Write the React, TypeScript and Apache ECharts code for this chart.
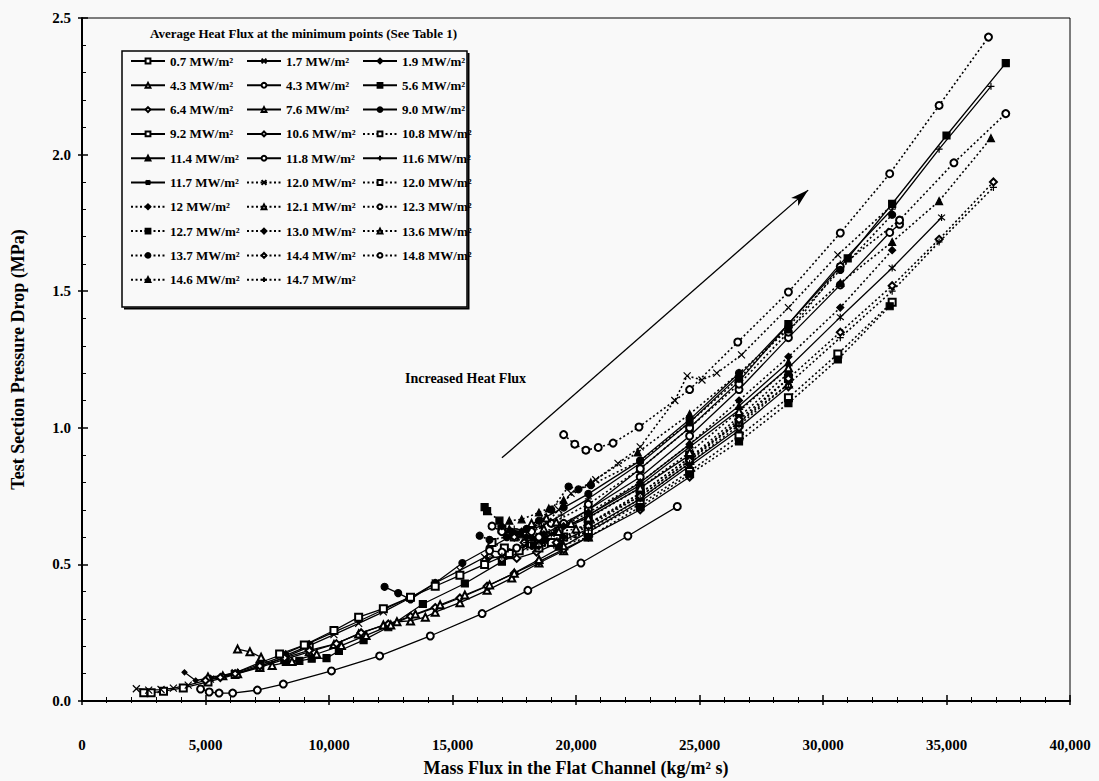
import React, { useEffect, useRef } from "react";
import * as echarts from "echarts";

type Pt = [number, number];

const FONT = "'Liberation Serif', 'Times New Roman', serif";

// x-axis tick labels and y-axis tick labels
const xTickValues = [0, 5000, 10000, 15000, 20000, 25000, 30000, 35000, 40000];
const yTickValues = [0, 0.5, 1.0, 1.5, 2.0, 2.5];

// Series values: [mass flux (kg/m² s), pressure drop (MPa)]
const hf0_7: Pt[] = [[2500,0.030],[2800,0.030],[3300,0.036],[4100,0.048],[5100,0.070],[6200,0.097],[7200,0.127],[8200,0.160],[9200,0.198]];
const hf1_7: Pt[] = [[2200,0.045],[2700,0.040],[3200,0.042],[3700,0.047],[4300,0.058],[5200,0.080],[6200,0.104],[7200,0.133],[8200,0.165],[9200,0.203],[10200,0.243],[11200,0.284],[12200,0.326],[13300,0.378],[14300,0.432],[15300,0.478],[16300,0.526]];
const hf1_9: Pt[] = [[4150,0.105],[4600,0.075],[5200,0.085],[5700,0.094],[6300,0.107],[7200,0.140],[8250,0.175],[9200,0.212],[10200,0.252],[11200,0.292],[12200,0.334],[13200,0.376]];
const hf4_3a: Pt[] = [[5100,0.088],[5700,0.092],[6300,0.100],[7200,0.123],[8200,0.152],[9200,0.180],[10200,0.207],[11200,0.245],[12200,0.278],[12750,0.290],[13300,0.293],[13900,0.307],[14300,0.325],[15300,0.360],[16400,0.405],[17400,0.450],[18500,0.505],[19500,0.550],[20500,0.600]];
const hf4_3b: Pt[] = [[4800,0.044],[5150,0.033],[5550,0.029],[6100,0.029],[7100,0.040],[8150,0.062],[10100,0.110],[12050,0.165],[14100,0.238],[16200,0.320],[18050,0.405],[20200,0.505],[22100,0.604],[24100,0.712]];
const hf5_6: Pt[] = [[8250,0.143],[8800,0.147],[9300,0.155],[9900,0.157],[10400,0.183],[11400,0.223],[12400,0.270],[13800,0.355],[15500,0.430],[17000,0.510],[18600,0.590],[20500,0.700],[22600,0.850],[24600,1.000],[26600,1.170],[28600,1.380],[31000,1.620],[32800,1.820],[35000,2.070],[37400,2.335]];
const hf6_4: Pt[] = [[5000,0.075],[5600,0.086],[6200,0.100],[7200,0.128],[8200,0.158],[9200,0.185],[10300,0.210],[11300,0.250],[12400,0.282],[13300,0.310],[14300,0.342],[15300,0.377],[16400,0.420],[17500,0.468],[18500,0.510],[19500,0.555],[20500,0.600],[22600,0.700],[24600,0.820]];
const hf7_6: Pt[] = [[6300,0.190],[6800,0.180],[7250,0.160],[7700,0.130],[8500,0.145],[9500,0.172],[10500,0.203],[11500,0.240],[12500,0.278],[13500,0.318],[14500,0.352],[15500,0.388],[16500,0.425],[17500,0.468],[18500,0.518],[19500,0.568],[20500,0.618],[22600,0.730],[24600,0.860],[26600,0.990]];
const hf9_0: Pt[] = [[12250,0.418],[12800,0.395],[13300,0.372],[14300,0.432],[15400,0.505],[16500,0.560],[17500,0.610],[18500,0.660],[19500,0.708],[20500,0.758],[22600,0.880],[24600,1.030],[26600,1.200]];
const hf9_2: Pt[] = [[8000,0.172],[9000,0.205],[10200,0.258],[11200,0.307],[12200,0.338],[13300,0.380],[14300,0.420],[15300,0.460],[16300,0.500],[17300,0.540],[18300,0.580],[19300,0.622],[20500,0.672],[22600,0.780],[24600,0.900]];
const hf10_6: Pt[] = [[16500,0.530],[17000,0.520],[17600,0.522],[18400,0.545],[19300,0.580],[20500,0.630],[22600,0.740],[24600,0.870],[26600,1.000],[28600,1.150]];
const hf10_8: Pt[] = [[16600,0.580],[17100,0.560],[17700,0.550],[18500,0.560],[19500,0.600],[20500,0.645],[22600,0.760],[24600,0.890],[26600,1.020],[28600,1.180]];
const hf11_4: Pt[] = [[17300,0.630],[17800,0.610],[18400,0.600],[19200,0.620],[20500,0.680],[22600,0.800],[24600,0.940],[26600,1.080],[28600,1.240]];
const hf11_8: Pt[] = [[16500,0.550],[17000,0.545],[17600,0.560],[18500,0.600],[19500,0.650],[20500,0.700],[22600,0.820],[24600,0.970],[26600,1.140],[28600,1.330],[30700,1.523],[32700,1.715],[33100,1.745]];
const hf11_6: Pt[] = [[17500,0.630],[18000,0.625],[18600,0.640],[19400,0.680],[20500,0.740],[22600,0.870],[24600,1.020],[26600,1.190],[28600,1.380],[30700,1.600],[32800,1.800],[34700,2.020],[36800,2.250]];
const hf11_7: Pt[] = [[16400,0.520],[17000,0.530],[18000,0.570],[19000,0.610],[20500,0.680],[22600,0.790],[24600,0.930],[26600,1.065],[28600,1.220],[30700,1.405],[32800,1.585],[34800,1.770]];
const hf12_0a: Pt[] = [[18300,0.640],[18800,0.650],[19300,0.700],[19800,0.760],[20800,0.810],[21700,0.870],[22600,0.930],[24000,1.100],[24500,1.190],[25100,1.175],[25700,1.200],[26700,1.267],[28600,1.440],[30600,1.633],[32800,1.815]];
const hf12_0b: Pt[] = [[17000,0.630],[17500,0.600],[18200,0.575],[19000,0.580],[20500,0.620],[22600,0.720],[24600,0.840],[26600,0.970],[28600,1.110],[30600,1.270],[32800,1.460]];
const hf12: Pt[] = [[17800,0.620],[18200,0.600],[18800,0.590],[19500,0.600],[20500,0.650],[22600,0.760],[24600,0.890],[26600,1.040],[28600,1.200]];
const hf12_1: Pt[] = [[18200,0.650],[18700,0.630],[19300,0.620],[20000,0.630],[20500,0.650],[22600,0.750],[24600,0.880],[26600,1.020],[28600,1.160]];
const hf12_3: Pt[] = [[16600,0.640],[17000,0.620],[17500,0.610],[18200,0.620],[19000,0.650],[20500,0.720],[22600,0.850],[24600,1.000],[26600,1.160],[28600,1.350],[30700,1.590],[33100,1.760],[35300,1.970],[37400,2.150]];
const hf12_7: Pt[] = [[16300,0.710],[16400,0.695],[16900,0.660],[17500,0.610],[18300,0.570],[19300,0.565],[20500,0.600],[22600,0.710],[24600,0.830],[26600,0.950],[28600,1.090],[30600,1.250],[32700,1.445]];
const hf13_0: Pt[] = [[17000,0.640],[17400,0.620],[18000,0.600],[18700,0.610],[19500,0.640],[20500,0.690],[22600,0.800],[24600,0.940],[26600,1.100],[28600,1.260],[30700,1.440],[32800,1.650]];
const hf13_6: Pt[] = [[18800,0.670],[19200,0.655],[19800,0.650],[20500,0.670],[22600,0.780],[24600,0.910],[26600,1.060],[28600,1.220]];
const hf13_7: Pt[] = [[16100,0.605],[16500,0.590],[17200,0.600],[18000,0.630],[19000,0.700],[19700,0.785],[20100,0.775],[20600,0.790],[22600,0.880],[24600,1.020],[26600,1.180],[28600,1.370],[30700,1.578],[32800,1.780]];
const hf14_4: Pt[] = [[17500,0.600],[17900,0.580],[18500,0.570],[19200,0.580],[20500,0.640],[22600,0.750],[24600,0.880],[26600,1.030],[28600,1.180],[30700,1.350],[32800,1.520],[34700,1.690],[36900,1.900]];
const hf14_8: Pt[] = [[19500,0.975],[19950,0.940],[20400,0.918],[20900,0.928],[21500,0.944],[22550,1.003],[24600,1.140],[26550,1.314],[28600,1.497],[30700,1.713],[32700,1.930],[34700,2.180],[36700,2.430]];
const hf14_6: Pt[] = [[17300,0.660],[17800,0.665],[18500,0.690],[18900,0.705],[19500,0.735],[20600,0.800],[22500,0.910],[24600,1.050],[26600,1.200],[28600,1.360],[30700,1.530],[32800,1.680],[34700,1.830],[36800,2.060]];
const hf14_7: Pt[] = [[18000,0.580],[18500,0.565],[19100,0.570],[20000,0.600],[20500,0.625],[22600,0.740],[24600,0.870],[26600,1.010],[28600,1.160],[30700,1.330],[32800,1.500],[34700,1.680],[36900,1.880]];

// Arrow annotation (data coordinates)
const arrowStart: Pt = [17000, 0.89];
const arrowEnd: Pt = [29400, 1.87];

const CROSS = "path://M0,0L10,10M10,0L0,10";
const PLUS = "path://M5,0L5,10M0,5L10,5";
const STAR = "path://M1,1L9,9M9,1L1,9M5,0L5,10";

type Def = { name: string; data: Pt[]; symbol: string; dotted: boolean; size?: number };

const ZW = "\u200B";

const defs: Def[] = [
  { name: "0.7 MW/m²", data: hf0_7, symbol: "emptyRect", dotted: false },
  { name: "1.7 MW/m²", data: hf1_7, symbol: CROSS, dotted: false },
  { name: "1.9 MW/m²", data: hf1_9, symbol: "diamond", dotted: false, size: 5 },
  { name: "4.3 MW/m²", data: hf4_3a, symbol: "emptyTriangle", dotted: false },
  { name: "4.3 MW/m²" + ZW, data: hf4_3b, symbol: "emptyCircle", dotted: false },
  { name: "5.6 MW/m²", data: hf5_6, symbol: "rect", dotted: false },
  { name: "6.4 MW/m²", data: hf6_4, symbol: "emptyDiamond", dotted: false },
  { name: "7.6 MW/m²", data: hf7_6, symbol: "emptyTriangle", dotted: false },
  { name: "9.0 MW/m²", data: hf9_0, symbol: "circle", dotted: false },
  { name: "9.2 MW/m²", data: hf9_2, symbol: "emptyRect", dotted: false },
  { name: "10.6 MW/m²", data: hf10_6, symbol: "emptyDiamond", dotted: false },
  { name: "10.8 MW/m²", data: hf10_8, symbol: "emptyRect", dotted: true },
  { name: "11.4 MW/m²", data: hf11_4, symbol: "triangle", dotted: false },
  { name: "11.8 MW/m²", data: hf11_8, symbol: "emptyCircle", dotted: false },
  { name: "11.6 MW/m²", data: hf11_6, symbol: PLUS, dotted: false },
  { name: "11.7 MW/m²", data: hf11_7, symbol: STAR, dotted: false },
  { name: "12.0 MW/m²", data: hf12_0a, symbol: CROSS, dotted: true },
  { name: "12.0 MW/m²" + ZW, data: hf12_0b, symbol: "emptyRect", dotted: true },
  { name: "12 MW/m²", data: hf12, symbol: "diamond", dotted: true },
  { name: "12.1 MW/m²", data: hf12_1, symbol: "emptyTriangle", dotted: true },
  { name: "12.3 MW/m²", data: hf12_3, symbol: "emptyCircle", dotted: true },
  { name: "12.7 MW/m²", data: hf12_7, symbol: "rect", dotted: true },
  { name: "13.0 MW/m²", data: hf13_0, symbol: "diamond", dotted: true },
  { name: "13.6 MW/m²", data: hf13_6, symbol: "emptyTriangle", dotted: true },
  { name: "13.7 MW/m²", data: hf13_7, symbol: "circle", dotted: true },
  { name: "14.4 MW/m²", data: hf14_4, symbol: "emptyDiamond", dotted: true },
  { name: "14.8 MW/m²", data: hf14_8, symbol: "emptyCircle", dotted: true },
  { name: "14.6 MW/m²", data: hf14_6, symbol: "triangle", dotted: true },
  { name: "14.7 MW/m²", data: hf14_7, symbol: PLUS, dotted: true },
];

// legend layout: rows of three, read across
const legendCols: string[][] = [[], [], []];
defs.forEach((d, i) => legendCols[i % 3].push(d.name));

const App: React.FC = () => {
  const ref = useRef<HTMLDivElement>(null);

  useEffect(() => {
    if (!ref.current) return;
    const chart = echarts.init(ref.current, undefined, { renderer: "svg" });

    const series: any[] = defs.map((d) => ({
      type: "line",
      name: d.name,
      data: d.data,
      symbol: d.symbol,
      symbolSize: d.size ?? 7,
      showSymbol: true,
      showAllSymbol: true,
      lineStyle: {
        color: "#000",
        width: d.dotted ? 1.6 : 1.3,
        type: d.dotted ? [2, 2.5] : "solid",
      },
      itemStyle: { color: "#000", borderColor: "#000", borderWidth: 1.2 },
      emphasis: { disabled: true },
      silent: true,
    }));

    series.push({
      type: "line",
      name: "arrow",
      data: [],
      silent: true,
      markLine: {
        silent: true,
        symbol: ["none", "arrow"],
        symbolSize: [8, 18],
        lineStyle: { color: "#000", width: 1.3, type: "solid" },
        label: { show: false },
        emphasis: { disabled: true },
        data: [[{ coord: arrowStart }, { coord: arrowEnd }]],
      },
    });

    const textStyle = {
      fontFamily: FONT,
      fontWeight: "bold" as const,
      color: "#000",
    };

    const baseX = {
      type: "value",
      min: xTickValues[0],
      max: xTickValues[xTickValues.length - 1],
      interval: 5000,
      position: "bottom",
      splitLine: { show: false },
    };
    const baseY = {
      type: "value",
      min: yTickValues[0],
      max: yTickValues[yTickValues.length - 1],
      interval: 0.5,
      position: "left",
      splitLine: { show: false },
    };

    chart.setOption({
      animation: false,
      backgroundColor: "#f9f9f9",
      grid: {
        left: 82,
        right: 29,
        top: 18,
        bottom: 80,
        show: true,
        borderColor: "#000",
        borderWidth: 1,
        outerBoundsMode: "none",
      },
      xAxis: [
        {
          ...baseX,
          name: "Mass Flux in the Flat Channel (kg/m² s)",
          nameLocation: "middle",
          nameGap: 58,
          nameTextStyle: { ...textStyle, fontSize: 18 },
          axisLine: { show: true, lineStyle: { color: "#000", width: 2 } },
          axisTick: { show: true, inside: true, length: 6, lineStyle: { color: "#000", width: 1.5 } },
          minorTick: { show: true, splitNumber: 5, length: 4, lineStyle: { color: "#000", width: 1 } },
          axisLabel: {
            ...textStyle,
            fontSize: 15,
            margin: 36,
            formatter: (v: number) => v.toLocaleString("en-US"),
          },
        },
        {
          ...baseX,
          axisLine: { show: false },
          axisTick: { show: true, inside: false, length: 4, lineStyle: { color: "#000", width: 1.5 } },
          minorTick: { show: true, splitNumber: 5, length: 2, lineStyle: { color: "#000", width: 1 } },
          axisLabel: { show: false },
        },
      ],
      yAxis: [
        {
          ...baseY,
          name: "Test Section Pressure Drop (MPa)",
          nameLocation: "middle",
          nameGap: 55,
          nameTextStyle: { ...textStyle, fontSize: 18 },
          axisLine: { show: true, lineStyle: { color: "#000", width: 2 } },
          axisTick: { show: true, inside: true, length: 6, lineStyle: { color: "#000", width: 1.5 } },
          minorTick: { show: true, splitNumber: 5, length: 4, lineStyle: { color: "#000", width: 1 } },
          axisLabel: {
            ...textStyle,
            fontSize: 15,
            margin: 11,
            formatter: (v: number) => v.toFixed(1),
          },
        },
        {
          ...baseY,
          axisLine: { show: false },
          axisTick: { show: true, inside: false, length: 4, lineStyle: { color: "#000", width: 1.5 } },
          minorTick: { show: false },
          axisLabel: { show: false },
        },
      ],
      legend: legendCols.map((names, i) => ({
        orient: "vertical",
        left: [130, 246, 362][i],
        top: 53,
        itemWidth: 34,
        itemHeight: 6,
        itemGap: 8.3,
        padding: 0,
        selectedMode: false,
        data: names,
        formatter: (n: string) => n.replace(ZW, ""),
        textStyle: { ...textStyle, fontSize: 13, lineHeight: 16 },
      })),
      graphic: [
        {
          type: "rect",
          shape: { x: 122, y: 51, width: 345, height: 256 },
          style: { fill: "none", stroke: "#000", lineWidth: 1.5 },
          silent: true,
        },
        {
          type: "polyline",
          shape: { points: [[124, 308.5], [468.5, 308.5], [468.5, 53]] },
          style: { fill: "none", stroke: "#000", lineWidth: 2 },
          silent: true,
        },
        {
          type: "text",
          x: 150,
          y: 33,
          style: {
            text: "Average Heat Flux at the minimum points (See Table 1)",
            fontFamily: FONT,
            fontWeight: "bold",
            fontSize: 13,
            fill: "#000",
            verticalAlign: "middle",
          },
          silent: true,
        },
        {
          type: "text",
          x: 405,
          y: 378,
          style: {
            text: "Increased Heat Flux",
            fontFamily: FONT,
            fontWeight: "bold",
            fontSize: 14,
            fill: "#000",
            verticalAlign: "middle",
          },
          silent: true,
        },
      ],
      series,
    });

    return () => chart.dispose();
  }, []);

  return (
    <div
      ref={ref}
      style={{ position: "absolute", left: 0, top: 0, width: 1099, height: 781 }}
    />
  );
};

export default App;
